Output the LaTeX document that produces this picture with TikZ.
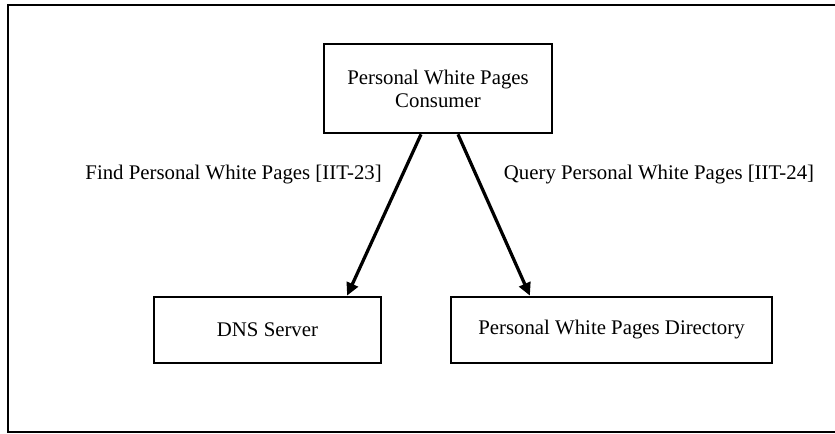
\documentclass[tikz,border=0pt]{standalone}
\usepackage{fontspec}
\setmainfont{Liberation Serif}
\usetikzlibrary{arrows.meta}
\begin{document}
\begin{tikzpicture}[every node/.style={font=\fontsize{14.8}{16.4}\selectfont},
  block/.style={draw,line width=1.9pt,minimum height=1.65cm,align=center},
  call/.style={-{Triangle[length=0.32cm,width=0.3cm]},line width=2.3pt}]
\useasboundingbox (0,0) rectangle (20.875,-10.825);
% outer frame (open to the right)
\draw[line width=1.9pt] (0.2,-0.125) rectangle (21.5,-10.8);
% components
\node[block,minimum width=5.7cm,minimum height=2.225cm] (cons) at (10.95,-2.2125) {Personal White Pages\\Consumer};
\node[block,minimum width=5.675cm] (dns) at (6.6875,-8.25) {DNS Server};
\node[block,minimum width=8.025cm] (dir) at (15.2875,-8.25) {Personal White Pages Directory};
% interactions
\draw[call] ([xshift=-0.425cm]cons.south) -- ([xshift=1.99cm]dns.north);
\draw[call] ([xshift=0.5cm]cons.south) -- ([xshift=-2.04cm]dir.north);
\node (findlbl) at (5.84,-4.375) {Find Personal White Pages [IIT-23]};
\node (querylbl) at (16.475,-4.375) {Query Personal White Pages [IIT-24]};
\end{tikzpicture}
\end{document}
